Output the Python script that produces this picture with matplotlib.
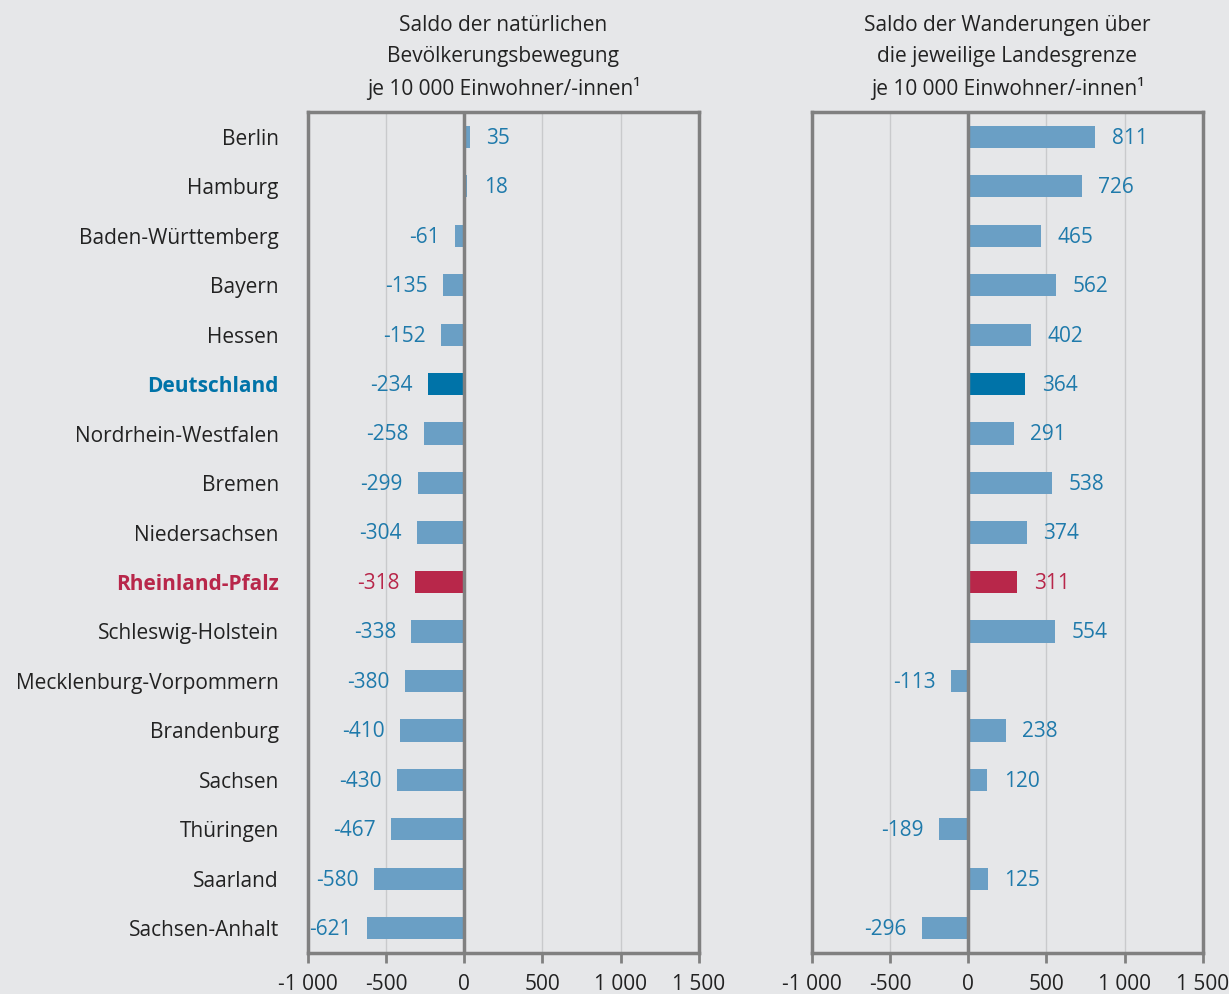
import matplotlib.pyplot as plt
from matplotlib.ticker import FixedLocator

laender = ["Berlin", "Hamburg", "Baden-Württemberg", "Bayern", "Hessen", "Deutschland",
           "Nordrhein-Westfalen", "Bremen", "Niedersachsen", "Rheinland-Pfalz",
           "Schleswig-Holstein", "Mecklenburg-Vorpommern", "Brandenburg", "Sachsen",
           "Thüringen", "Saarland", "Sachsen-Anhalt"]
natuerlich = [35, 18, -61, -135, -152, -234, -258, -299, -304, -318, -338, -380, -410,
              -430, -467, -580, -621]
wanderung = [811, 726, 465, 562, 402, 364, 291, 538, 374, 311, 554, -113, 238, 120,
             -189, 125, -296]
titel_links = "Saldo der natürlichen\nBevölkerungsbewegung\nje 10 000 Einwohner/-innen¹"
titel_rechts = "Saldo der Wanderungen über\ndie jeweilige Landesgrenze\nje 10 000 Einwohner/-innen¹"
xticks = [-1000, -500, 0, 500, 1000, 1500]
xticklabels = ["-1 000", "-500", "0", "500", "1 000", "1 500"]

bg = "#e6e7e9"
c_bar = "#6a9fc5"
c_de = "#0073a8"
c_rp = "#b8274a"
c_txt = "#1f7aab"
c_spine = "#808080"

plt.rcParams["font.family"] = ["Open Sans", "DejaVu Sans"]

fig = plt.figure(figsize=(12.29, 9.94), dpi=100, facecolor=bg)
ax1 = fig.add_axes([0.2506, 0.0412, 0.318, 0.8461])
ax2 = fig.add_axes([0.6607, 0.0412, 0.318, 0.8461])


def farbe(name):
    if name == "Deutschland":
        return c_de, c_txt
    if name == "Rheinland-Pfalz":
        return c_rp, c_rp
    return c_bar, c_txt


for ax, werte, titel in [(ax1, natuerlich, titel_links), (ax2, wanderung, titel_rechts)]:
    ax.set_facecolor(bg)
    ypos = list(range(len(laender)))
    cols = [farbe(n)[0] for n in laender]
    ax.barh(ypos, werte, height=0.45, color=cols, zorder=3)
    for y, v, n in zip(ypos, werte, laender):
        tc = farbe(n)[1]
        if v >= 0:
            ax.annotate(str(v), (v, y), xytext=(12, -1), textcoords="offset points",
                        ha="left", va="center", fontsize=15, color=tc)
        else:
            ax.annotate(str(v), (v, y), xytext=(-11, -1), textcoords="offset points",
                        ha="right", va="center", fontsize=15, color=tc)
    ax.set_xlim(-1000, 1500)
    ax.set_ylim(len(laender) - 0.5, -0.5)
    ax.xaxis.set_major_locator(FixedLocator(xticks))
    ax.set_xticklabels(xticklabels, fontsize=15, color="#222222")
    ax.tick_params(axis="x", length=7, width=2, color=c_spine, pad=8)
    ax.grid(axis="x", color="#c9cacc", linewidth=1, zorder=0)
    ax.axvline(0, color=c_spine, linewidth=2.5, zorder=4)
    for s in ax.spines.values():
        s.set_color(c_spine)
        s.set_linewidth(2.5)
    ax.set_title(titel, fontsize=15, color="#222222", linespacing=1.6, pad=12)
    ax.set_yticks(ypos)
    ax.tick_params(axis="y", length=0)

ax1.set_yticklabels(laender, fontsize=15, color="#222222")
ax1.tick_params(axis="y", pad=21)
for lbl, n in zip(ax1.get_yticklabels(), laender):
    if n == "Deutschland":
        lbl.set_color(c_de)
        lbl.set_fontweight("bold")
    elif n == "Rheinland-Pfalz":
        lbl.set_color(c_rp)
        lbl.set_fontweight("bold")
ax2.set_yticklabels([])

fig.savefig("out.png", dpi=100, facecolor=bg)
